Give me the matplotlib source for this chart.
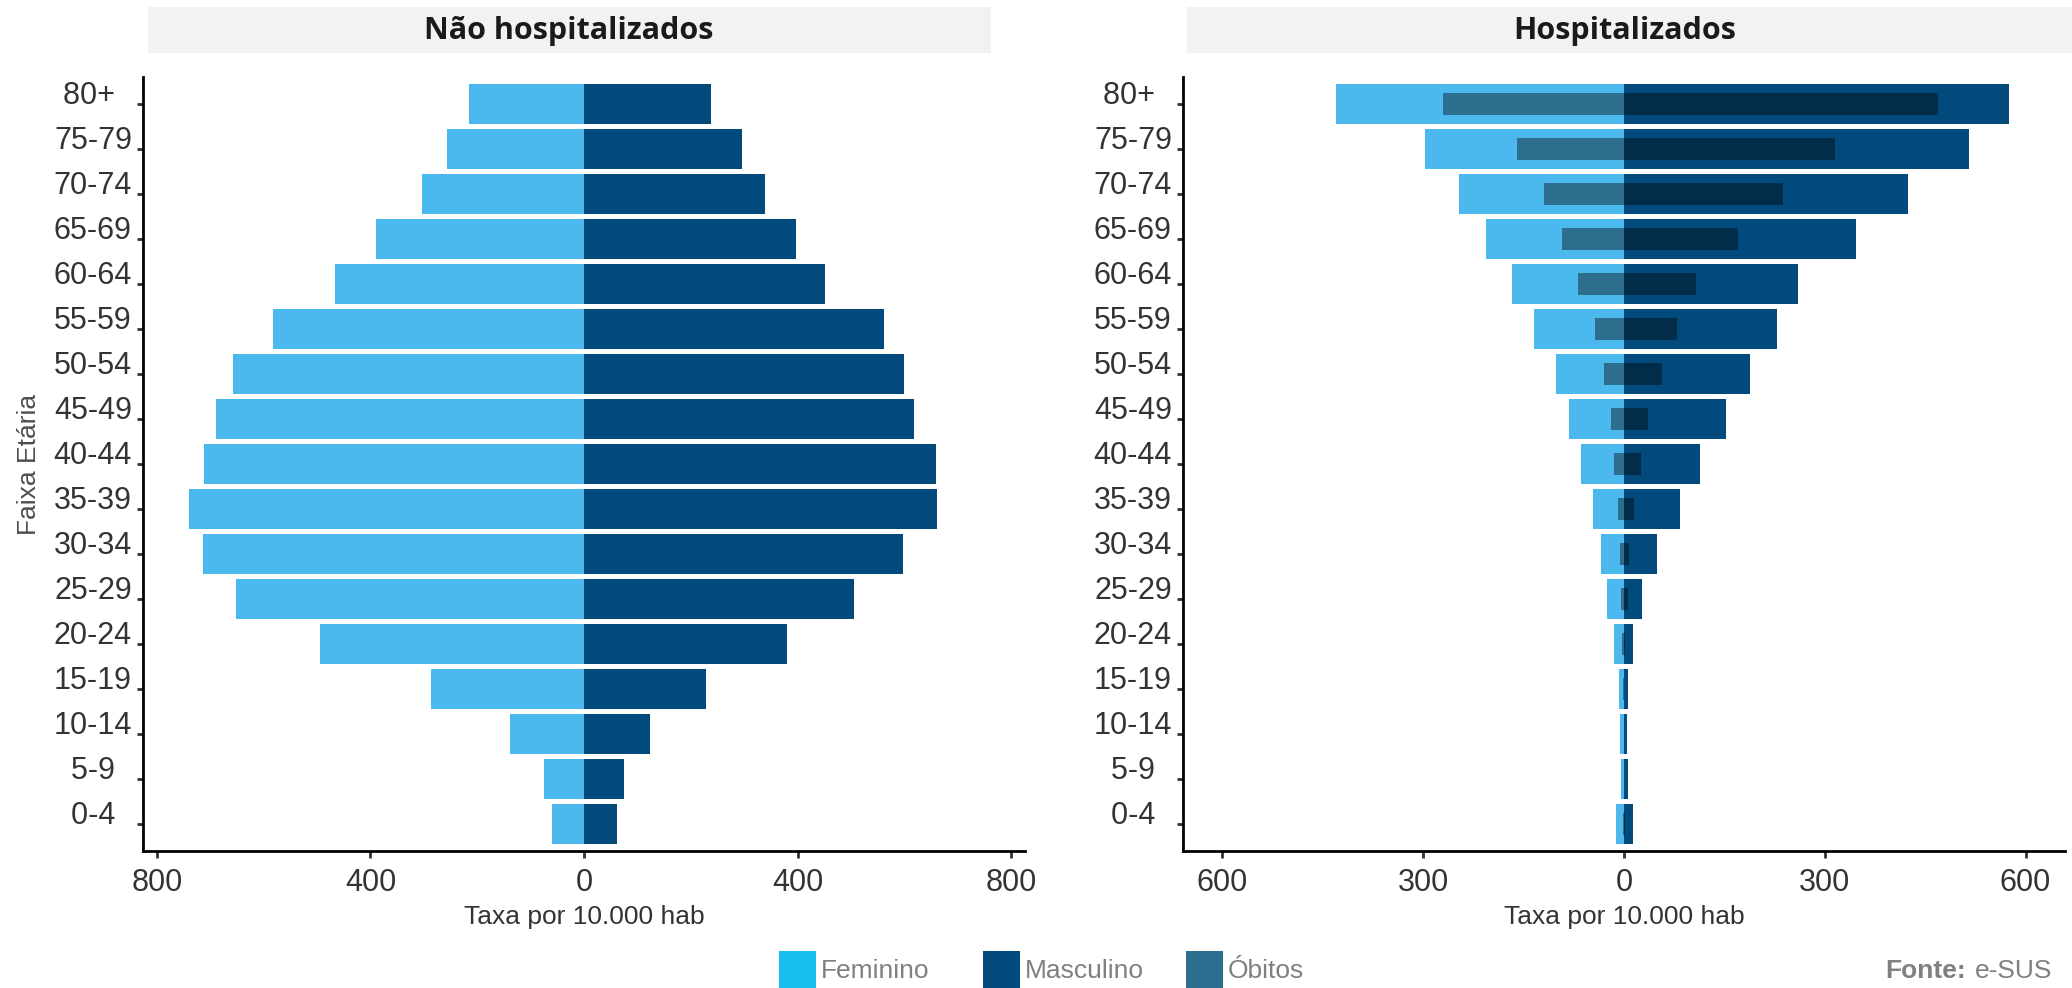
import numpy as np
import matplotlib
matplotlib.use("Agg")
import matplotlib.pyplot as plt
from matplotlib.patches import Rectangle

# faixas etarias (de baixo para cima)
faixas = ["0-4", "5-9", "10-14", "15-19", "20-24", "25-29", "30-34", "35-39", "40-44",
          "45-49", "50-54", "55-59", "60-64", "65-69", "70-74", "75-79", "80+"]
rotulos = ["0-4  ", "5-9  ", "10-14", "15-19", "20-24", "25-29", "30-34", "35-39", "40-44",
           "45-49", "50-54", "55-59", "60-64", "65-69", "70-74", "75-79", "80+  "]

# Nao hospitalizados (taxa por 10.000 hab)
nh_fem = [60, 74, 138, 287, 495, 652, 713, 740, 712, 689, 657, 583, 467, 390, 303, 256, 215]
nh_masc = [62, 75, 124, 228, 380, 505, 597, 662, 659, 618, 599, 561, 452, 397, 339, 296, 238]

# Hospitalizados (taxa por 10.000 hab)
h_fem = [12.5, 4.5, 6, 7.5, 14.5, 26, 35, 46, 64, 82, 102, 134, 168, 206, 246, 297, 430]
h_masc = [14, 6.5, 4.5, 5.5, 13, 26.5, 50, 83, 113, 152, 188, 228, 260, 347, 425, 516, 576]

# Obitos entre hospitalizados
ob_fem = [1, 0.3, 0.5, 1.5, 3, 4.5, 6.5, 8.5, 14.5, 20, 30, 44, 68, 92, 120, 160, 270]
ob_masc = [1, 0.3, 0.3, 0.5, 1, 6, 7.5, 15.5, 25, 36, 57, 79, 108, 170, 237, 315, 469]

cor_fem = "#4BB8EE"
cor_masc = "#024A7C"
cor_ob = "#2C6E8F"
cor_txt = "#333333"

plt.rcParams["font.family"] = ["Liberation Sans", "DejaVu Sans"]

W, H = 2072, 988
fig = plt.figure(figsize=(W / 100, H / 100), dpi=100)

def px(x0, y0, x1, y1):
    return [x0 / W, 1 - y1 / H, (x1 - x0) / W, (y1 - y0) / H]

ax1 = fig.add_axes(px(143, 77, 1025, 851))
ax2 = fig.add_axes(px(1183, 77, 2065, 851))

y = np.arange(len(faixas))

ax1.barh(y, -np.array(nh_fem), height=0.9, color=cor_fem, edgecolor="none")
ax1.barh(y, nh_masc, height=0.9, color=cor_masc, edgecolor="none")

ax2.barh(y, -np.array(h_fem), height=0.9, color=cor_fem, edgecolor="none")
ax2.barh(y, h_masc, height=0.9, color=cor_masc, edgecolor="none")
ax2.barh(y, -np.array(ob_fem), height=0.5, color="black", alpha=0.4, edgecolor="none")
ax2.barh(y, ob_masc, height=0.5, color="black", alpha=0.4, edgecolor="none")

ax1.set_xlim(-826, 826)
ax1.set_xticks([-800, -400, 0, 400, 800])
ax1.set_xticklabels(["800", "400", "0", "400", "800"])
ax2.set_xlim(-659, 659)
ax2.set_xticks([-600, -300, 0, 300, 600])
ax2.set_xticklabels(["600", "300", "0", "300", "600"])

for ax in (ax1, ax2):
    ax.set_ylim(-0.6, 16.6)
    ax.set_yticks(y)
    ax.set_yticklabels(rotulos)
    for s in ("top", "right"):
        ax.spines[s].set_visible(False)
    for s in ("left", "bottom"):
        ax.spines[s].set_linewidth(2.0)
        ax.spines[s].set_color("black")
    ax.tick_params(axis="y", length=4, width=2, color=cor_txt, pad=4,
                   labelsize=22, labelcolor=cor_txt)
    ax.tick_params(axis="x", length=5, width=2, color=cor_txt, pad=7,
                   labelsize=22, labelcolor=cor_txt)
    for t in ax.get_yticklabels():
        t.set_verticalalignment("baseline")
    ax.set_xlabel("Taxa por 10.000 hab", fontsize=19, color=cor_txt)
    ax.xaxis.set_label_coords(0.5, -0.07)

fig.text(29 / W, 1 - 464 / H, "Faixa Etária", rotation=90, ha="center", va="center",
         fontsize=19, color="#4d4d4d")

# faixas de titulo
for x0, x1, xc, titulo in [(148, 991, 569, "Não hospitalizados"),
                           (1187, 2072, 1625, "Hospitalizados")]:
    fig.patches.append(Rectangle((x0 / W, 1 - 53 / H), (x1 - x0) / W, 46 / H,
                                 transform=fig.transFigure, facecolor="#F2F2F2",
                                 edgecolor="none", zorder=0))
    fig.text(xc / W, 1 - 31 / H, titulo, ha="center", va="center", fontsize=22,
             fontweight="bold", family="Open Sans", color="#1a1a1a")

# legenda
leg_cores = ["#1ABFF1", "#034A7C", cor_ob]
leg_nomes = ["Feminino", "Masculino", "Óbitos"]
leg_x = [779, 983, 1186]
for cx, cor, nome in zip(leg_x, leg_cores, leg_nomes):
    fig.patches.append(Rectangle((cx / W, 0), 37 / W, 37 / H, transform=fig.transFigure,
                                 facecolor=cor, edgecolor="none"))
    fig.text((cx + 42) / W, 1 - 971 / H, nome, ha="left", va="center", fontsize=19,
             color="#808080")

fig.text(1885 / W, 1 - 971 / H, "Fonte:", ha="left", va="center", fontsize=19,
         fontweight="bold", color="#808080")
fig.text(1975 / W, 1 - 971 / H, "e-SUS", ha="left", va="center", fontsize=19,
         color="#808080")

fig.savefig("out.png", dpi=100)
